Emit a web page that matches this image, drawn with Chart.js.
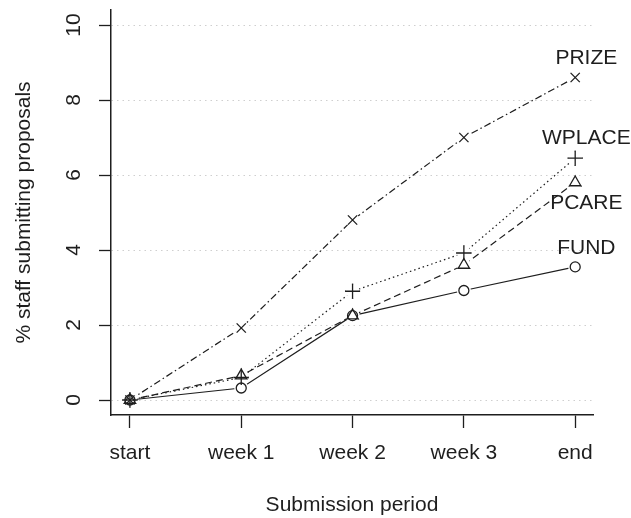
<!DOCTYPE html>
<html><head><meta charset="utf-8">
<script src="https://cdn.jsdelivr.net/npm/chart.js@4"></script>
<style>html,body{margin:0;padding:0;background:#fff}#wrap{width:631px;height:518px}</style>
</head><body><div id="wrap"><canvas id="c" width="631" height="518"></canvas></div>
<script>
const categories = ['start', 'week 1', 'week 2', 'week 3', 'end'];
const yTickValues = [0, 2, 4, 6, 8, 10];
const seriesNames = ['FUND', 'PCARE', 'WPLACE', 'PRIZE'];
const fund = [0, 0.32, 2.25, 2.92, 3.55];
const pcare = [0, 0.65, 2.25, 3.6, 5.8];
const wplace = [0, 0.6, 2.9, 3.92, 6.45];
const prize = [0, 1.92, 4.8, 7.0, 8.6];
// label anchor positions (data coordinates) for series names
const labelX = [4.1, 4.1, 4.1, 4.1];
const labelY = [4.05, 5.25, 6.99, 9.12];

const INK = '#1e1e1e';
const FONT = "'Liberation Sans', Arial, Helvetica, sans-serif";
const toXY = arr => arr.map((v, i) => ({x: i, y: v}));

const styles = [
  {dash: [], point: 'circle', r: 5},
  {dash: [7, 4], point: 'triangle', r: 6.5},
  {dash: [1.5, 3], point: 'cross', r: 7.5},
  {dash: [7, 3, 1.5, 3], point: 'crossRot', r: 6.5}
];
const values = [fund, pcare, wplace, prize];

const datasets = values.map((vals, k) => ({
  label: seriesNames[k],
  data: toXY(vals),
  borderColor: INK,
  borderWidth: 1.2,
  borderDash: styles[k].dash,
  pointStyle: styles[k].point,
  pointRadius: styles[k].r,
  pointBorderColor: INK,
  pointBackgroundColor: 'rgba(0,0,0,0)',
  pointBorderWidth: 1.3,
  fill: false,
  tension: 0
}));

const gapPlugin = {
  id: 'gaps',
  afterDatasetsDraw(chart) {
    const ctx = chart.ctx;
    const area = chart.chartArea;
    ctx.save();
    ctx.fillStyle = '#fff';
    chart.data.datasets.forEach((ds, i) => {
      const meta = chart.getDatasetMeta(i);
      meta.data.forEach(p => {
        ctx.beginPath();
        ctx.arc(p.x, p.y, 7, 0, Math.PI * 2);
        ctx.fill();
      });
    });
    ctx.restore();
    chart.data.datasets.forEach((ds, i) => {
      const meta = chart.getDatasetMeta(i);
      meta.data.forEach(p => p.draw(ctx, area));
    });
  }
};

const labelPlugin = {
  id: 'seriesLabels',
  afterDraw(chart) {
    const ctx = chart.ctx;
    const xs = chart.scales.x, ys = chart.scales.y;
    ctx.save();
    ctx.font = '21px ' + FONT;
    ctx.fillStyle = INK;
    ctx.textAlign = 'center';
    ctx.textBaseline = 'middle';
    seriesNames.forEach((n, k) => {
      ctx.fillText(n, xs.getPixelForValue(labelX[k]), ys.getPixelForValue(labelY[k]));
    });
    ctx.restore();
  }
};

new Chart(document.getElementById('c'), {
  type: 'line',
  data: {datasets},
  options: {
    responsive: false,
    animation: false,
    events: [],
    layout: {padding: {top: 10, right: 38, left: 0, bottom: 0}},
    plugins: {legend: {display: false}, tooltip: {enabled: false}},
    scales: {
      x: {
        type: 'linear',
        min: -0.17, max: 4.16,
        afterBuildTicks: s => { s.ticks = categories.map((c, i) => ({value: i})); },
        afterFit: s => { s.height = 103; s.paddingLeft = 0; s.paddingRight = 0; },
        ticks: {
          callback: v => categories[v],
          color: INK, font: {family: FONT, size: 21}, padding: 13,
          maxRotation: 0, minRotation: 0, autoSkip: false
        },
        grid: {drawOnChartArea: false, drawTicks: true, tickLength: 13, tickColor: INK, tickWidth: 1.3},
        border: {display: true, color: INK, width: 1.5},
        title: {display: true, text: 'Submission period', color: INK, font: {family: FONT, size: 21}, padding: {top: 18, bottom: 0}}
      },
      y: {
        type: 'linear',
        min: -0.4, max: 10.4,
        afterBuildTicks: s => { s.ticks = yTickValues.map(v => ({value: v})); },
        afterFit: s => { s.width = 111; s.paddingTop = 0; s.paddingBottom = 0; },
        ticks: {
          color: INK, font: {family: FONT, size: 21}, padding: 13,
          minRotation: 90, maxRotation: 90, crossAlign: 'center'
        },
        grid: {color: '#cfcfcf', lineWidth: 1, borderDash: [1.5, 4], tickLength: 12, tickColor: INK, tickWidth: 1.3, tickBorderDash: []},
        border: {display: true, color: INK, width: 1.5, dash: [1.5, 4]},
        title: {display: true, text: '% staff submitting proposals', color: INK, font: {family: FONT, size: 21}, padding: {top: 12, bottom: 0}}
      }
    }
  },
  plugins: [gapPlugin, labelPlugin]
});
</script>
</body></html>
